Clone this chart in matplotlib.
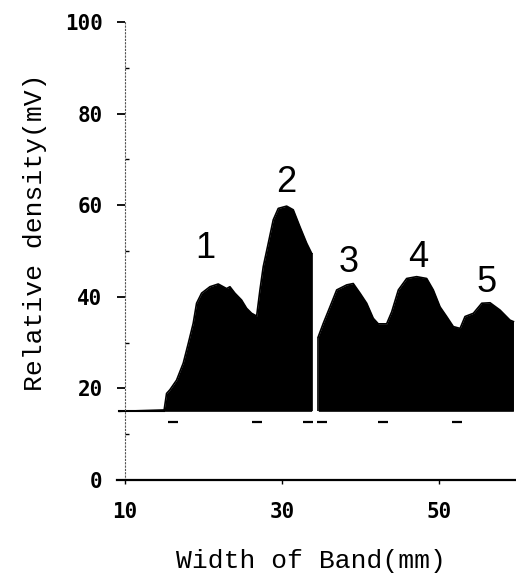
import matplotlib
matplotlib.use("Agg")
import matplotlib.pyplot as plt
import numpy as np

# ---- data ----
baseline = 15.0

lane1_x = [9.3, 15.0, 15.31, 15.73, 16.58, 17.43, 18.07, 18.70, 19.13, 19.77, 20.83,
           21.89, 22.95, 23.38, 24.01, 24.86, 25.50, 26.14, 26.78, 27.20, 27.62,
           28.26, 28.89, 29.53, 30.60, 31.44, 32.29, 33.15, 33.78]
lane1_y = [15.0, 15.3, 18.9, 19.7, 21.8, 25.5, 29.8, 34.2, 38.6, 40.8, 42.2,
           42.8, 41.8, 42.2, 40.8, 39.3, 37.5, 36.4, 35.8, 41.5, 46.6,
           51.7, 56.8, 59.3, 59.8, 59.0, 55.3, 51.7, 49.5]

lane2_x = [34.63, 35.26, 36.11, 36.97, 38.24, 39.08, 39.94, 40.79, 41.63, 42.27,
           43.33, 43.97, 44.82, 45.88, 47.15, 48.43, 49.27, 50.13, 50.97, 51.82,
           52.68, 53.31, 54.37, 55.44, 56.50, 57.77, 59.04, 59.47]
lane2_y = [31.3, 34.2, 37.8, 41.5, 42.6, 42.9, 40.8, 38.6, 35.3, 34.1,
           34.1, 36.7, 41.5, 44.0, 44.4, 44.0, 41.5, 37.8, 35.7, 33.5,
           33.1, 35.7, 36.4, 38.6, 38.7, 37.1, 34.9, 34.6]

marks_x = [16.1, 26.8, 33.3, 35.1, 42.9, 52.3]
marks_y = [12.6, 12.6, 12.6, 12.6, 12.6, 12.6]

peak_labels = ["1", "2", "3", "4", "5"]
peak_x = [20.19, 30.6, 38.45, 47.4, 56.08]
peak_y = [48.5, 62.9, 45.5, 46.6, 41.1]

xticks = [10, 30, 50]
xticklabels = ["10", "30", "50"]
yticks = [0, 20, 40, 60, 80, 100]
yticklabels = ["0", "20", "40", "60", "80", "100"]
yminor = [10, 30, 50, 70, 90]

# ---- figure ----
W, H = 516, 575
fig = plt.figure(figsize=(W / 100, H / 100), dpi=100)
ax = fig.add_axes([117 / W, (H - 489.2) / H, 399 / W, (489.2 - 17.4) / H])
ax.set_xlim(9.0, 59.8)
ax.set_ylim(-2, 101)

# filled densitometry trace
ax.fill_between(lane1_x, baseline, lane1_y, color="black", linewidth=0)
ax.plot(lane1_x, lane1_y, color="black", lw=1.2)
ax.fill_between(lane2_x, baseline, lane2_y, color="black", linewidth=0)
ax.plot(lane2_x, lane2_y, color="black", lw=1.2)
ax.vlines([lane1_x[-1], lane2_x[0], lane2_x[-1]], baseline,
          [lane1_y[-1], lane2_y[0], lane2_y[-1]], color="black", lw=1.2)
ax.plot([lane1_x[0], lane1_x[1]], [baseline, baseline], color="black", lw=1.5)

# small marks below the baseline
ax.plot(marks_x, marks_y, ls="none", marker="_", ms=7, mew=1.6, color="black")

# peak labels
for lab, px, py in zip(peak_labels, peak_x, peak_y):
    ax.text(px, py, lab, ha="center", va="baseline", fontsize=26,
            family="Liberation Sans", color="black")

# spines
for s in ["top", "right"]:
    ax.spines[s].set_visible(False)
ax.spines["left"].set_position(("data", 10))
ax.spines["left"].set_bounds(0, 100)
ax.spines["left"].set_linestyle((0, (1, 2)))
ax.spines["left"].set_color("#555555")
ax.spines["left"].set_linewidth(0.8)
ax.spines["bottom"].set_position(("data", 0))
ax.spines["bottom"].set_linewidth(1.6)

tickfont = dict(family="DejaVu Sans Mono", weight="bold", size=15)
ax.set_yticks(yticks)
ax.set_yticklabels(yticklabels, **tickfont)
ax.set_yticks(yminor, minor=True)
ax.tick_params(axis="y", which="major", direction="out", length=6, width=1.3,
               pad=10, colors="black")
ax.tick_params(axis="y", which="minor", direction="in", length=3, width=1.0,
               colors="black")
ax.set_xticks(xticks)
ax.set_xticklabels(xticklabels, **tickfont)
ax.tick_params(axis="x", which="major", direction="out", length=3, width=1.0,
               pad=13, colors="black")

# axis labels
fig.text(35 / W, 1 - 232 / H, "Relative density(mV)", rotation=90,
         ha="center", va="center", fontsize=19, family="Liberation Mono")
fig.text(311 / W, 1 - 561 / H, "Width of Band(mm)", ha="center", va="center",
         fontsize=19, family="Liberation Mono")

fig.savefig("out.png", dpi=100)
